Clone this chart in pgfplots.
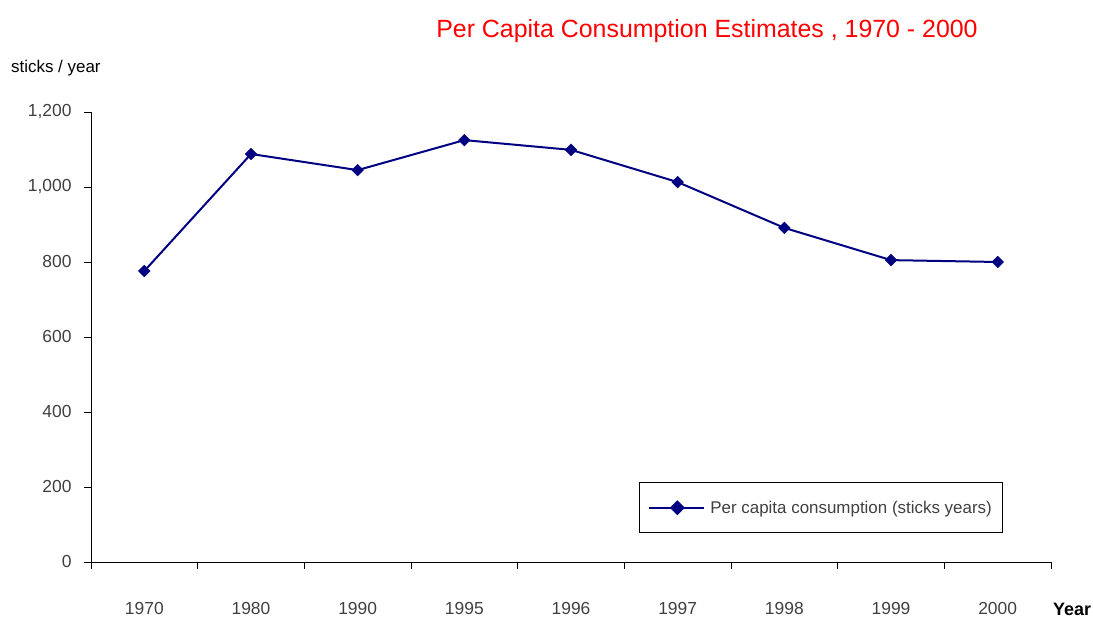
\documentclass[border=0pt]{standalone}
\usepackage{pgfplots}
\pgfplotsset{compat=1.18}
\usepackage{fontspec}
\setmainfont{Liberation Sans}
\definecolor{navy}{RGB}{0,0,128}
\definecolor{lbl}{RGB}{64,64,64}
\begin{document}
\begin{tikzpicture}[x=1bp,y=1bp]
\path[use as bounding box] (0,0) rectangle (1093,617);
\begin{axis}[
  at={(91bp,55bp)}, anchor=south west,
  scale only axis, width=960bp, height=450bp,
  xmin=-0.5, xmax=8.5, ymin=0, ymax=1200,
  axis x line*=bottom, axis y line*=left,
  axis line style={black, line width=0.8pt, -},
  xtick={0,...,8},
  xticklabels={1970,1980,1990,1995,1996,1997,1998,1999,2000},
  major x tick style={draw=none},
  minor xtick={-0.5,0.5,...,8.5},
  minor tick length=7bp,
  minor x tick style={black, line width=0.8pt},
  x tick label style={yshift=-30bp},
  ytick={0,200,...,1200},
  major tick length=7bp,
  y tick style={black, line width=0.8pt},
  tick align=outside,
  ticklabel style={font=\fontsize{17.5}{20}\selectfont, text=lbl},
  y tick label style={xshift=-9bp},
  /pgf/number format/assume math mode=true,
  /pgf/number format/1000 sep={,},
  clip=false,
  legend style={at={(0.5708,0.0644)}, anchor=south west, draw=black, line width=0.8pt,
    font=\fontsize{17}{20}\selectfont, text=lbl, inner xsep=9bp, inner ysep=16bp,
    legend cell align=left},
  legend image code/.code={\draw[navy, line width=2bp] (0bp,0bp) -- (55bp,0bp);
    \fill[navy] (28bp,6bp) -- (34bp,0bp) -- (28bp,-6bp) -- (22bp,0bp) -- cycle;},
]
\addplot[navy, line width=2bp, mark=square*, mark size=4.2bp, mark options={fill=navy, rotate=45, line width=0.3pt}]
 coordinates {(0,776) (1,1088) (2,1045) (3,1125) (4,1099) (5,1013) (6,891) (7,805) (8,800)};
\addlegendentry{\hspace{3bp}Per capita consumption (sticks years)}
\end{axis}
\node[text=red, font=\fontsize{25}{30}\selectfont] at (707,586) {Per Capita Consumption Estimates , 1970 - 2000};
\node[anchor=west, font=\fontsize{17}{20}\selectfont, inner sep=0pt] at (11,549) {sticks / year};
\node[anchor=west, font=\fontsize{18}{20}\selectfont\bfseries, inner sep=0pt] at (1053,8) {Year};
\end{tikzpicture}
\end{document}
